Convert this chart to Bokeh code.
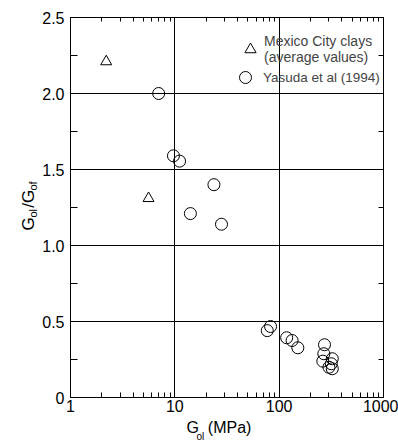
import math
from bokeh.plotting import figure
from bokeh.models import (FixedTicker, LinearAxis, LogAxis, Legend, LegendItem, Label,
                          CustomJSTickFormatter, BasicTickFormatter)
from bokeh.embed import file_html
from bokeh.resources import INLINE

FONT = "Liberation Sans"
NB = "\u00a0"

# Data
mexico_x = [2.2, 5.6]
mexico_y = [2.21, 1.31]

yasuda_x = [7.0, 9.7, 11.1, 14.1, 23.7, 28.0, 76.9, 82.7, 118, 133, 151,
            272, 268, 262, 323, 300, 323, 316]
yasuda_y = [2.00, 1.59, 1.555, 1.21, 1.40, 1.14, 0.44, 0.467, 0.393, 0.375, 0.327,
            0.347, 0.288, 0.239, 0.255, 0.199, 0.189, 0.222]

x_major = [1, 10, 100, 1000]
x_minor = [2, 3, 4, 5, 6, 7, 8, 9, 20, 30, 40, 50, 60, 70, 80, 90,
           200, 300, 400, 500, 600, 700, 800, 900]
y_major = [0, 0.5, 1.0, 1.5, 2.0, 2.5]
y_minor = [0.25, 0.75, 1.25, 1.75, 2.25]

legend_labels = ["Mexico City clays\n(average values)", "Yasuda et al (1994)"]

# axis titles: G_ol (MPa) and G_ol/G_of
x_title = "G" + NB * 2 + "(MPa)"
x_title_sub = "ol"
y_title = "G" + NB * 2 + "/G"
y_title_sub = "ol" + NB * 6 + "of"

p = figure(width=398, height=441, x_axis_type="log", x_range=(1, 1000), y_range=(0, 2.5),
           output_backend="svg", toolbar_location=None,
           min_border_left=70, min_border_right=15, min_border_top=17, min_border_bottom=44)

p.background_fill_color = "white"
p.outline_line_color = "black"
p.outline_line_width = 1

xt = FixedTicker(ticks=x_major, minor_ticks=x_minor)
yt = FixedTicker(ticks=y_major, minor_ticks=y_minor)

xa = p.xaxis[0]
xa.ticker = xt
xa.formatter = BasicTickFormatter()
ya = p.yaxis[0]
ya.ticker = yt
ya.formatter = CustomJSTickFormatter(code="return tick == 0 ? '0' : tick.toFixed(1);")

for ax in (xa, ya):
    ax.axis_line_color = "black"
    ax.major_tick_in = 0
    ax.major_tick_out = 0
    ax.minor_tick_out = 0
    ax.minor_tick_line_color = "black"
    ax.major_label_text_font = FONT
    ax.major_label_text_font_size = "16px"
    ax.major_label_text_color = "black"
xa.major_label_standoff = 2
ya.major_label_standoff = 6
xa.minor_tick_in = 5
ya.minor_tick_in = 7

top = LogAxis(ticker=FixedTicker(ticks=x_major, minor_ticks=x_minor),
              major_label_text_alpha=0, major_label_text_font_size="4px",
              major_tick_in=0, major_tick_out=0,
              minor_tick_in=4, minor_tick_out=0, axis_line_color="black")
right = LinearAxis(ticker=FixedTicker(ticks=y_major, minor_ticks=y_minor),
                   major_label_text_alpha=0, major_label_text_font_size="1px",
                   major_label_standoff=0,
                   major_tick_in=0, major_tick_out=0,
                   minor_tick_in=5, minor_tick_out=0, axis_line_color="black")
p.add_layout(top, "above")
p.add_layout(right, "right")


def title(side, x, y, text, size, angle=0.0):
    p.add_layout(Label(x=x, y=y, x_units="screen", y_units="screen", text=text,
                       text_font=FONT, text_font_size=size, text_color="black",
                       angle=angle, text_align="left", text_baseline="alphabetic"), side)


# y title (rotated, reading upward): subscripts panel first, then main letters
title("left", 5, 180, y_title_sub, "11px", math.pi / 2)
title("left", 20, 167, y_title, "17px", math.pi / 2)
# x title below the tick labels; its subscript lives in the right-hand panel
title("below", 116, 4, x_title, "16px")
title("right", -187, -39, x_title_sub, "10px")

p.xgrid.grid_line_color = "black"
p.ygrid.grid_line_color = "black"
p.xgrid.grid_line_width = 1
p.ygrid.grid_line_width = 1
p.xgrid.ticker = xt
p.ygrid.ticker = yt

tri = p.scatter(mexico_x, mexico_y, marker="triangle", size=11, fill_color=None,
                line_color="black", line_width=1)
cir = p.scatter(yasuda_x, yasuda_y, marker="circle", size=12, fill_color=None,
                line_color="black", line_width=1)

common = dict(margin=0, padding=4, label_text_font=FONT,
              label_text_line_height=0.94, border_line_alpha=0, background_fill_alpha=0)
legend1 = Legend(items=[LegendItem(label=legend_labels[0], renderers=[tri])],
                 location=(162, 328), glyph_width=28, glyph_height=28, label_standoff=0,
                 label_text_font_size="14px", **common)
legend2 = Legend(items=[LegendItem(label=legend_labels[1], renderers=[cir])],
                 location=(156, 301), glyph_width=30, glyph_height=30, label_standoff=3,
                 label_text_font_size="13.5px", **common)
p.add_layout(legend1, "center")
p.add_layout(legend2, "center")

open("out.html", "w").write(file_html(p, INLINE))
